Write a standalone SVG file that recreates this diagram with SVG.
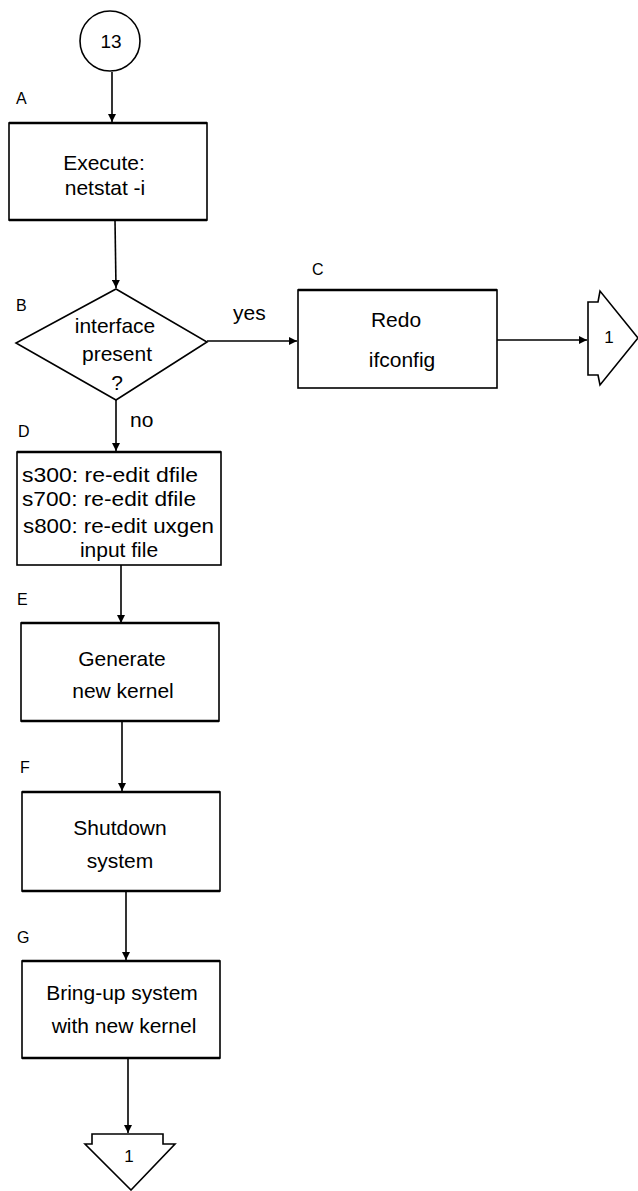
<svg xmlns="http://www.w3.org/2000/svg" width="638" height="1191" viewBox="0 0 638 1191">
  <style>
    .shape { fill: none; stroke: #000; stroke-width: 1.6; }
    .edge { fill: none; stroke: #000; stroke-width: 2.4; }
    .conn { fill: none; stroke: #000; stroke-width: 1.6; }
    .txt { font-family: "Liberation Sans", Arial, sans-serif; font-size: 21px; fill: #000; }
    .mid { text-anchor: middle; }
    .lbl { font-family: "Liberation Sans", Arial, sans-serif; font-size: 16px; fill: #000; }
  </style>
  <defs>
    <marker id="arrow" viewBox="0 0 10 10" refX="10" refY="5" markerWidth="8" markerHeight="8" markerUnits="userSpaceOnUse" orient="auto">
      <path d="M0,0 L10,5 L0,10 z" fill="#000"/>
    </marker>
  </defs>
  <rect x="0" y="0" width="638" height="1191" fill="#fff"/>

  <!-- connectors -->
  <g id="connectors">
    <line class="conn" x1="112" y1="72" x2="112" y2="122" marker-end="url(#arrow)"/>
    <line class="conn" x1="115" y1="220" x2="116" y2="288" marker-end="url(#arrow)"/>
    <line class="conn" x1="207" y1="341" x2="297" y2="341" marker-end="url(#arrow)"/>
    <line class="conn" x1="497" y1="340" x2="587" y2="340" marker-end="url(#arrow)"/>
    <line class="conn" x1="116" y1="400" x2="116" y2="451" marker-end="url(#arrow)"/>
    <line class="conn" x1="121" y1="565" x2="121" y2="623" marker-end="url(#arrow)"/>
    <line class="conn" x1="122" y1="721" x2="122" y2="791" marker-end="url(#arrow)"/>
    <line class="conn" x1="126" y1="891" x2="126" y2="960" marker-end="url(#arrow)"/>
    <line class="conn" x1="128" y1="1058" x2="128" y2="1133" marker-end="url(#arrow)"/>
    <text class="txt" x="233" y="320">yes</text>
    <text class="txt" x="130" y="427">no</text>
  </g>

  <!-- start connector 13 -->
  <g id="start">
    <circle class="shape" cx="110" cy="41" r="30"/>
    <text class="txt mid" x="111" y="48" style="font-size:19px">13</text>
  </g>

  <!-- A -->
  <g id="nodeA">
    <text class="lbl" x="16" y="104">A</text>
    <rect class="shape" x="9" y="123" width="198" height="97"/>
    <line class="edge" x1="9" y1="123" x2="207" y2="123"/>
    <line class="edge" x1="9" y1="220" x2="207" y2="220"/>
    <text class="txt mid" x="104" y="170">Execute:</text>
    <text class="txt mid" x="105" y="195">netstat -i</text>
  </g>

  <!-- B -->
  <g id="nodeB">
    <text class="lbl" x="16" y="311">B</text>
    <polygon class="shape" points="116,289 207,342 116,400 16,343"/>
    <text class="txt mid" x="115" y="333">interface</text>
    <text class="txt mid" x="117" y="361">present</text>
    <text class="txt mid" x="117" y="390">?</text>
  </g>

  <!-- C -->
  <g id="nodeC">
    <text class="lbl" x="312" y="275">C</text>
    <rect class="shape" x="298" y="290" width="199" height="98"/>
    <line class="edge" x1="298" y1="290" x2="497" y2="290"/>
    <text class="txt mid" x="396" y="327">Redo</text>
    <text class="txt mid" x="402" y="367">ifconfig</text>
  </g>

  <!-- off-page connector 1 (right) -->
  <g id="offpage1right">
    <polygon class="shape" points="588,302 598,302 600,291 638,338 600,385 598,375 588,375"/>
    <text class="lbl mid" x="609" y="343" style="font-size:17px">1</text>
  </g>

  <!-- D -->
  <g id="nodeD">
    <text class="lbl" x="18" y="437">D</text>
    <rect class="shape" x="17" y="452" width="204" height="113"/>
    <line class="edge" x1="17" y1="452" x2="221" y2="452"/>
    <text class="txt" x="22" y="482" textLength="176" lengthAdjust="spacingAndGlyphs">s300: re-edit dfile</text>
    <text class="txt" x="22" y="506" textLength="174" lengthAdjust="spacingAndGlyphs">s700: re-edit dfile</text>
    <text class="txt" x="23" y="533" textLength="191" lengthAdjust="spacingAndGlyphs">s800: re-edit uxgen</text>
    <text class="txt mid" x="119" y="557">input file</text>
  </g>

  <!-- E -->
  <g id="nodeE">
    <text class="lbl" x="17" y="605">E</text>
    <rect class="shape" x="21" y="623" width="198" height="98"/>
    <line class="edge" x1="21" y1="623" x2="219" y2="623"/>
    <line class="edge" x1="21" y1="721" x2="219" y2="721"/>
    <text class="txt mid" x="122" y="666">Generate</text>
    <text class="txt mid" x="123" y="698">new kernel</text>
  </g>

  <!-- F -->
  <g id="nodeF">
    <text class="lbl" x="20" y="773">F</text>
    <rect class="shape" x="22" y="792" width="198" height="99"/>
    <line class="edge" x1="22" y1="792" x2="220" y2="792"/>
    <line class="edge" x1="22" y1="891" x2="220" y2="891"/>
    <text class="txt mid" x="120" y="835">Shutdown</text>
    <text class="txt mid" x="120" y="868">system</text>
  </g>

  <!-- G -->
  <g id="nodeG">
    <text class="lbl" x="17" y="943">G</text>
    <rect class="shape" x="22" y="961" width="198" height="97"/>
    <line class="edge" x1="22" y1="961" x2="220" y2="961"/>
    <line class="edge" x1="22" y1="1058" x2="220" y2="1058"/>
    <text class="txt mid" x="122" y="1000">Bring-up system</text>
    <text class="txt mid" x="124" y="1033">with new kernel</text>
  </g>

  <!-- off-page connector 1 (bottom) -->
  <g id="offpage1bottom">
    <polygon class="shape" points="92,1134 163,1134 163,1144 175,1144 131,1190 85,1144 92,1144"/>
    <text class="lbl mid" x="129" y="1162" style="font-size:17px">1</text>
  </g>
</svg>
